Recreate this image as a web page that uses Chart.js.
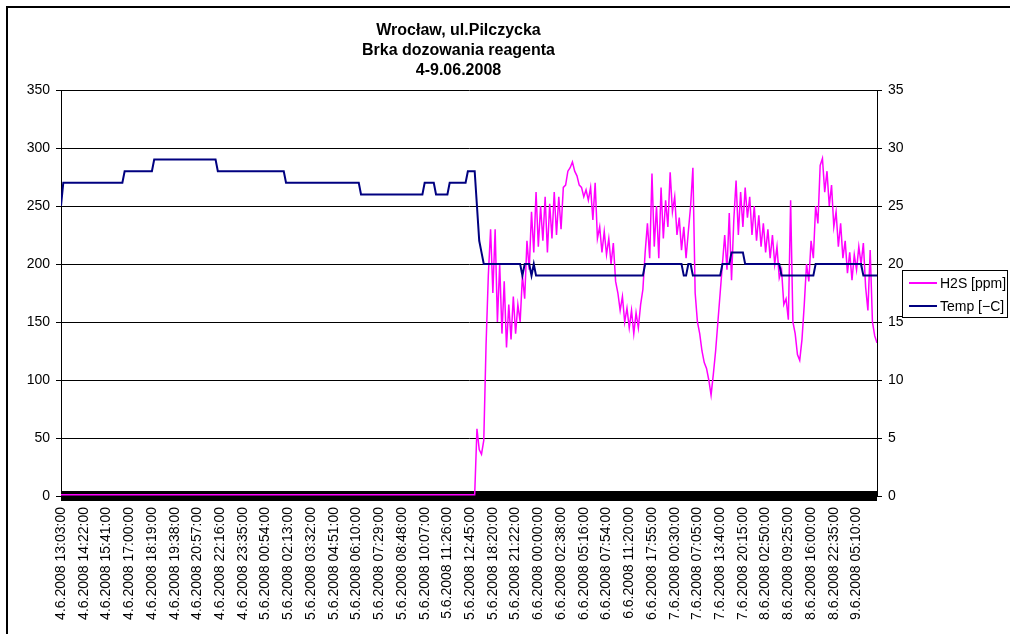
<!DOCTYPE html>
<html>
<head>
<meta charset="utf-8">
<script src="https://cdn.jsdelivr.net/npm/chart.js@4/dist/chart.umd.min.js"></script>
<style>
  html, body { margin: 0; padding: 0; background: #fff; overflow: hidden; }
  #frame { position: absolute; left: 6px; top: 6px; width: 1100px; height: 700px; border: 2px solid #000; }
  #c { position: absolute; left: 0; top: 0; }
</style>
</head>
<body>
<div id="frame"></div>
<canvas id="c" width="1010" height="634"></canvas>
<script>
// one tick label every 10 samples
const tickLabels = [
  "4.6.2008 13:03:00", "4.6.2008 14:22:00", "4.6.2008 15:41:00", "4.6.2008 17:00:00",
  "4.6.2008 18:19:00", "4.6.2008 19:38:00", "4.6.2008 20:57:00", "4.6.2008 22:16:00",
  "4.6.2008 23:35:00", "5.6.2008 00:54:00", "5.6.2008 02:13:00", "5.6.2008 03:32:00",
  "5.6.2008 04:51:00", "5.6.2008 06:10:00", "5.6.2008 07:29:00", "5.6.2008 08:48:00",
  "5.6.2008 10:07:00", "5.6.2008 11:26:00", "5.6.2008 12:45:00", "5.6.2008 18:20:00",
  "5.6.2008 21:22:00", "6.6.2008 00:00:00", "6.6.2008 02:38:00", "6.6.2008 05:16:00",
  "6.6.2008 07:54:00", "6.6.2008 11:20:00", "6.6.2008 17:55:00", "7.6.2008 00:30:00",
  "7.6.2008 07:05:00", "7.6.2008 13:40:00", "7.6.2008 20:15:00", "8.6.2008 02:50:00",
  "8.6.2008 09:25:00", "8.6.2008 16:00:00", "8.6.2008 22:35:00", "9.6.2008 05:10:00"
];
const samplesPerLabel = 10;

// H2S [ppm]
const h2s = [
  1,1,1,1,1,1,1,1,1,1, 1,1,1,1,1,1,1,1,1,1, 1,1,1,1,1,1,1,1,1,1,
  1,1,1,1,1,1,1,1,1,1, 1,1,1,1,1,1,1,1,1,1, 1,1,1,1,1,1,1,1,1,1,
  1,1,1,1,1,1,1,1,1,1, 1,1,1,1,1,1,1,1,1,1, 1,1,1,1,1,1,1,1,1,1,
  1,1,1,1,1,1,1,1,1,1, 1,1,1,1,1,1,1,1,1,1, 1,1,1,1,1,1,1,1,1,1,
  1,1,1,1,1,1,1,1,1,1, 1,1,1,1,1,1,1,1,1,1, 1,1,1,1,1,1,1,1,1,1,
  1,1,1,1,1,1,1,1,1,1, 1,1,1,1,1,1,1,1,1,1, 1,1,1,1,1,1,1,1,1,1,
  1,1,1,58,40,36,48,130,190,230,
  175,230,150,200,140,185,128,165,135,172,
  140,165,150,190,170,220,195,245,210,262,
  215,250,220,258,210,252,222,262,225,258,
  230,266,268,280,283,288,280,276,268,266,
  258,264,255,266,238,270,222,232,210,228,
  208,222,200,218,185,175,160,172,150,162,
  145,160,140,158,145,165,178,210,235,205,
  278,215,250,205,266,222,255,232,279,245,
  258,225,240,212,232,205,228,250,283,175,
  150,140,125,115,110,100,87,105,125,150,
  175,200,225,195,244,186,238,272,225,262,
  232,266,240,258,225,250,220,242,215,235,
  210,230,205,225,200,215,188,195,165,170,
  152,255,150,140,122,117,135,165,200,185,
  220,205,250,235,285,291,262,280,250,268,
  232,245,215,235,205,220,192,210,186,208,
  195,215,200,218,180,160,212,150,138,132
];

// Temp [C], right axis
const temp = [
  25,27,27,27,27,27,27,27,27,27,
  27,27,27,27,27,27,27,27,27,27,
  27,27,27,27,27,27,27,27,28,28,
  28,28,28,28,28,28,28,28,28,28,
  28,29,29,29,29,29,29,29,29,29,
  29,29,29,29,29,29,29,29,29,29,
  29,29,29,29,29,29,29,29,29,28,
  28,28,28,28,28,28,28,28,28,28,
  28,28,28,28,28,28,28,28,28,28,
  28,28,28,28,28,28,28,28,28,27,
  27,27,27,27,27,27,27,27,27,27,
  27,27,27,27,27,27,27,27,27,27,
  27,27,27,27,27,27,27,27,27,27,
  27,27,26,26,26,26,26,26,26,26,
  26,26,26,26,26,26,26,26,26,26,
  26,26,26,26,26,26,26,26,26,26,
  27,27,27,27,27,26,26,26,26,26,
  26,27,27,27,27,27,27,27,27,28,
  28,28,28,25,22,21,20,20,20,20,
  20,20,20,20,20,20,20,20,20,20,
  20,20,20,19,20,20,20,19,20,19,
  19,19,19,19,19,19,19,19,19,19,
  19,19,19,19,19,19,19,19,19,19,
  19,19,19,19,19,19,19,19,19,19,
  19,19,19,19,19,19,19,19,19,19,
  19,19,19,19,19,19,19,20,20,20,
  20,20,20,20,20,20,20,20,20,20,
  20,20,20,20,19,19,20,20,19,19,
  19,19,19,19,19,19,19,19,19,19,
  19,20,20,20,20,21,21,21,21,21,
  21,20,20,20,20,20,20,20,20,20,
  20,20,20,20,20,20,20,19,19,19,
  19,19,19,19,19,19,19,19,19,19,
  19,19,20,20,20,20,20,20,20,20,
  20,20,20,20,20,20,20,20,20,20,
  20,20,20,19,19,19,19,19,19,19
];

const FONT = '"Liberation Sans", Arial, sans-serif';

// Excel's dense category tick marks show up as a thick black band on the x axis
const tickBand = {
  id: 'tickBand',
  beforeDatasetsDraw(chart) {
    const { ctx, chartArea } = chart;
    ctx.save();
    ctx.fillStyle = '#000';
    ctx.fillRect(chartArea.left, chartArea.bottom - 5, chartArea.right - chartArea.left, 10);
    ctx.restore();
  }
};

// legend with a box, drawn where Excel puts it (over the right axis labels)
const boxLegend = {
  id: 'boxLegend',
  afterDraw(chart) {
    const ctx = chart.ctx;
    ctx.save();
    ctx.strokeStyle = '#000';
    ctx.lineWidth = 1;
    ctx.strokeRect(902.5, 270.5, 105, 47);
    ctx.font = '14px ' + FONT;
    ctx.textBaseline = 'middle';
    ctx.fillStyle = '#000';
    chart.data.datasets.forEach((ds, i) => {
      const y = 283 + i * 23;
      ctx.strokeStyle = ds.borderColor;
      ctx.lineWidth = 2;
      ctx.beginPath();
      ctx.moveTo(909, y);
      ctx.lineTo(937, y);
      ctx.stroke();
      ctx.fillText(ds.label, 940, y + 1);
    });
    ctx.restore();
  }
};

new Chart(document.getElementById('c'), {
  type: 'line',
  data: {
    datasets: [
      {
        label: 'H2S [ppm]',
        data: h2s.map((v, i) => ({ x: i, y: v })),
        borderColor: '#FF00FF',
        borderWidth: 1.5,
        pointRadius: 0,
        yAxisID: 'y',
        order: 1
      },
      {
        label: 'Temp [\u2212C]',
        data: temp.map((v, i) => ({ x: i, y: v })),
        borderColor: '#000080',
        borderWidth: 2,
        pointRadius: 0,
        yAxisID: 'y1',
        order: 0
      }
    ]
  },
  options: {
    responsive: false,
    animation: false,
    layout: { padding: { left: 0, right: 93, top: 0, bottom: 0 } },
    plugins: {
      legend: { display: false },
      tooltip: { enabled: false },
      title: {
        display: true,
        text: ['Wrocław, ul.Pilczycka', 'Brka dozowania reagenta', '4-9.06.2008'],
        color: '#000',
        font: { family: FONT, size: 16, weight: 'bold', lineHeight: 1.25 },
        padding: { top: 21, bottom: 9 }
      }
    },
    scales: {
      x: {
        type: 'linear',
        min: 0,
        max: h2s.length - 1,
        grid: { drawOnChartArea: false, drawTicks: false },
        border: { display: false },
        ticks: {
          stepSize: samplesPerLabel,
          maxTicksLimit: 40,
          includeBounds: false,
          autoSkip: false,
          minRotation: 90,
          maxRotation: 90,
          padding: 11,
          color: '#000',
          font: { family: FONT, size: 14 },
          callback: (v) => tickLabels[v / samplesPerLabel] || ''
        },
        afterFit: (s) => { s.height = 138; }
      },
      y: {
        position: 'left',
        min: 0,
        max: 350,
        grid: { color: '#000', lineWidth: 1, tickLength: 5 },
        border: { color: '#000', width: 1 },
        ticks: { stepSize: 50, padding: 6, color: '#000', font: { family: FONT, size: 14 } },
        afterFit: (s) => { s.width = 61; }
      },
      y1: {
        position: 'right',
        min: 0,
        max: 35,
        grid: { drawOnChartArea: false, color: '#000', tickLength: 5 },
        border: { color: '#000', width: 1 },
        ticks: { stepSize: 5, padding: 6, color: '#000', font: { family: FONT, size: 14 } },
        afterFit: (s) => { s.width = 40; }
      }
    }
  },
  plugins: [tickBand, boxLegend]
});
</script>
</body>
</html>
